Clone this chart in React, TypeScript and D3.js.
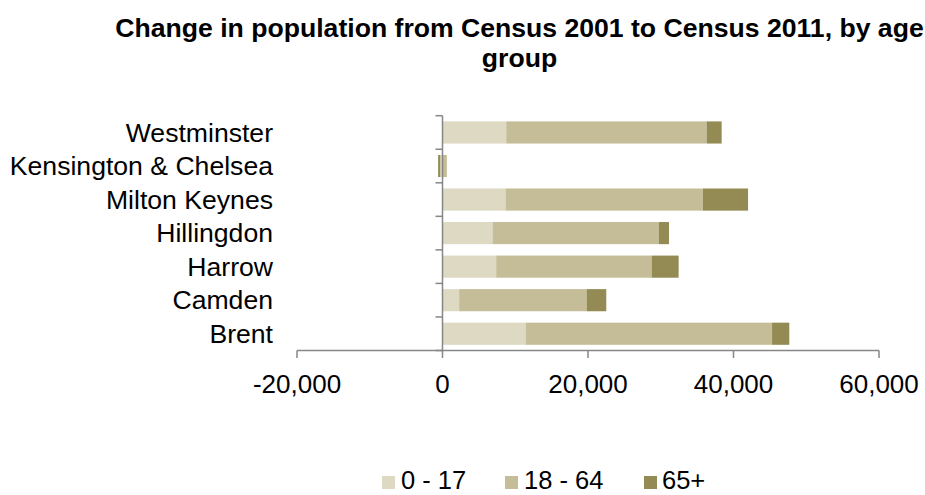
import React from "react";
import * as d3 from "d3";

const categories = ["Westminster", "Kensington & Chelsea", "Milton Keynes", "Hillingdon", "Harrow", "Camden", "Brent"];
const seriesNames = ["0 - 17", "18 - 64", "65+"];
const age0to17 = [8760, -300, 8670, 6880, 7380, 2290, 11420];
const age18to64 = [27550, 600, 27130, 22870, 21370, 17520, 33880];
const age65plus = [2060, -300, 6200, 1380, 3710, 2700, 2370];
const xTicks = [-20000, 0, 20000, 40000, 60000];
const colors = ["#DDD9C3", "#C4BD97", "#948A54"];
const titleLines = ["Change in population from Census 2001 to Census 2011, by age", "group"];

export default function App() {
  const W = 925, H = 495;
  const x = d3.scaleLinear().domain([-20000, 60000]).range([297, 879]);
  const y = d3.scaleBand<string>().domain(categories).range([115.7, 350.5]).paddingInner(0.34).paddingOuter(0.17);
  const step = y.step();
  const rangeTop = 115.7;
  const series = [age0to17, age18to64, age65plus];

  const rows = categories.map((c, i) => {
    let pos = 0, neg = 0;
    return series.map((s, k) => {
      const v = s[i];
      let x0, x1;
      if (v >= 0) { x0 = pos; x1 = pos + v; pos = x1; }
      else { x0 = neg + v; x1 = neg; neg = x0; }
      return { c, k, x0, x1 };
    });
  }).flat();

  const font = "'Liberation Sans', Arial, sans-serif";
  const axisColor = "#868686";
  const zeroX = x(0);
  const legendItems = [
    { sx: 382, tx: 401 },
    { sx: 505, tx: 524 },
    { sx: 644, tx: 662 },
  ];

  return (
    <svg width={W} height={H} style={{ position: "absolute", left: 0, top: 0 }} fontFamily={font}>
      <rect width={W} height={H} fill="#fff" />
      {titleLines.map((t, i) => (
        <text key={i} x={519.5} y={37 + i * 29.5} textAnchor="middle" fontWeight="bold" fontSize={26.6} fill="#000">{t}</text>
      ))}
      {rows.map((r, i) => (
        <rect key={i} x={x(r.x0)} width={Math.max(0, x(r.x1) - x(r.x0))} y={y(r.c)!} height={y.bandwidth()} fill={colors[r.k]} />
      ))}
      {/* y axis */}
      <line x1={zeroX} x2={zeroX} y1={rangeTop} y2={350.5} stroke={axisColor} strokeWidth={1.5} />
      {d3.range(categories.length + 1).map(i => (
        <line key={i} x1={zeroX - 7} x2={zeroX} y1={rangeTop + i * step} y2={rangeTop + i * step} stroke={axisColor} strokeWidth={1.5} />
      ))}
      {categories.map(c => (
        <text key={c} x={273} y={y(c)! + y.bandwidth() / 2} dy="0.35em" textAnchor="end" fontSize={26.6} fill="#000">{c}</text>
      ))}
      {/* x axis */}
      <line x1={x(-20000)} x2={x(60000)} y1={350.5} y2={350.5} stroke={axisColor} strokeWidth={1.5} />
      {xTicks.map(t => (
        <g key={t}>
          <line x1={x(t)} x2={x(t)} y1={350.5} y2={358} stroke={axisColor} strokeWidth={1.5} />
          <text x={x(t)} y={393} textAnchor="middle" fontSize={26} fill="#000">{d3.format(",")(t).replace("−", "-")}</text>
        </g>
      ))}
      {/* legend */}
      {seriesNames.map((n, i) => (
        <g key={n}>
          <rect x={legendItems[i].sx} y={476} width={13} height={13} fill={colors[i]} />
          <text x={legendItems[i].tx} y={489} fontSize={25.5} fill="#000">{n}</text>
        </g>
      ))}
    </svg>
  );
}
